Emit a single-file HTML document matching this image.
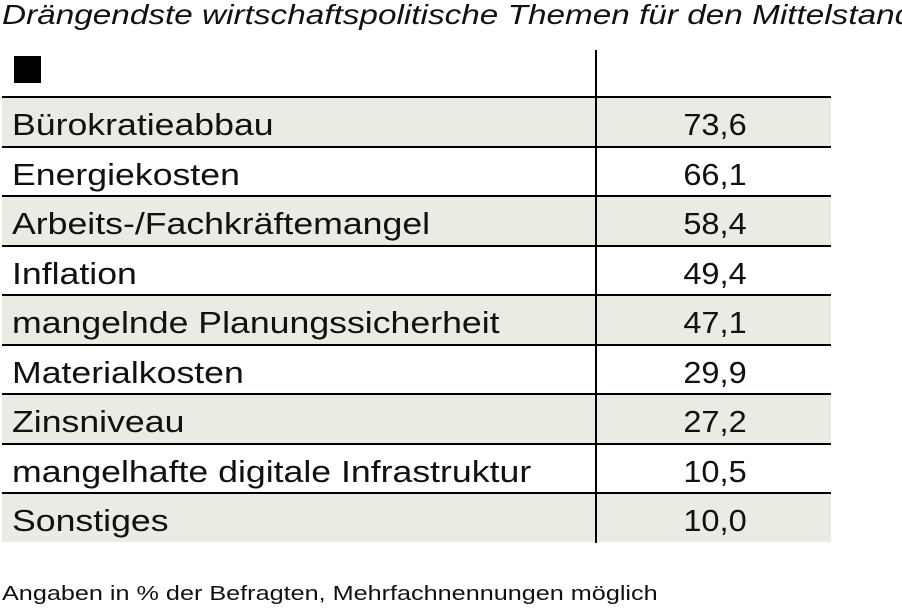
<!DOCTYPE html>
<html><head><meta charset="utf-8"><style>
body{margin:0;width:902px;height:609px;background:#fff;font-family:"Liberation Sans",sans-serif;color:#111;position:relative;overflow:hidden}
.t{position:absolute;left:2px;top:-1px;font-size:28px;font-style:italic;white-space:nowrap;transform:scaleX(1.19);transform-origin:0 0}
.row{position:absolute;left:2px;width:829px;height:48px}
.lab{position:absolute;left:10px;top:9px;font-size:31px;white-space:nowrap;transform:scaleX(1.15);transform-origin:0 0}
.val{position:absolute;left:594px;width:238px;text-align:center;top:9px;font-size:31px;transform:scaleX(1.05)}
.line{position:absolute;left:2px;width:829px;height:2px;background:#000}
.vdiv{position:absolute;left:595px;top:50px;width:2px;height:493px;background:#000}
.foot{position:absolute;left:2px;top:583px;font-size:20px;white-space:nowrap;transform:scaleX(1.26);transform-origin:0 0}
</style></head><body>
<div class="t">Drängendste wirtschaftspolitische Themen für den Mittelstand</div>
<div style="position:absolute;left:14px;top:56px;width:27px;height:27px;background:#000"></div>
<div id="tbl"></div>
<div class="vdiv"></div>
<div class="foot">Angaben in % der Befragten, Mehrfachnennungen möglich</div>
<script>
const categories=["Bürokratieabbau","Energiekosten","Arbeits-/Fachkräftemangel","Inflation","mangelnde Planungssicherheit","Materialkosten","Zinsniveau","mangelhafte digitale Infrastruktur","Sonstiges"];
const values=[73.6,66.1,58.4,49.4,47.1,29.9,27.2,10.5,10.0];
const tbl=document.getElementById('tbl');
const top0=98, rh=49.5;
categories.forEach((c,i)=>{
  const y=top0+i*rh;
  const r=document.createElement('div');
  r.className='row';
  
  
  r.style.top=y+'px';
  if(i%2===0) r.style.background='#ebeae3';
  const l=document.createElement('div');
  l.className='lab';
  
  
  l.textContent=c;
  const v=document.createElement('div');
  v.className='val';
  
  
  v.textContent=values[i].toFixed(1).replace('.',',');
  r.appendChild(l);r.appendChild(v);tbl.appendChild(r);
  const ln=document.createElement('div');
  ln.className='line';
  
  
  ln.style.top=(y-2)+'px';
  tbl.appendChild(ln);
});
</script>
</body></html>
